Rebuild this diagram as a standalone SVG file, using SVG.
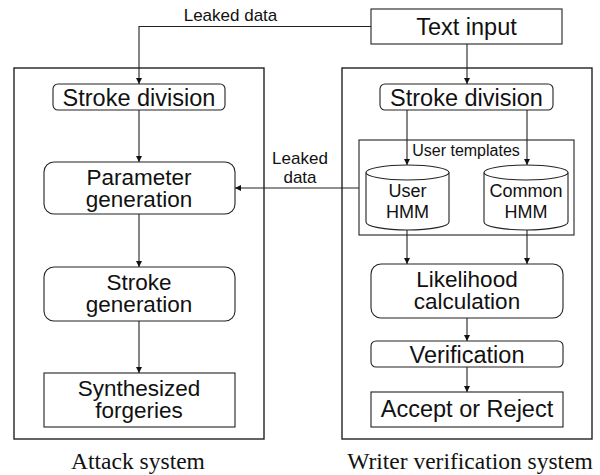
<svg xmlns="http://www.w3.org/2000/svg" width="600" height="475" viewBox="0 0 600 475">
  <defs>
    <marker id="arrow" viewBox="0 0 6 6" refX="6" refY="3" markerWidth="6" markerHeight="6" markerUnits="userSpaceOnUse" orient="auto">
      <path d="M0,0 L6,3 L0,6 z" fill="#111"/>
    </marker>
    <style>
      .frame { fill: none; stroke: #222; stroke-width: 1.4; }
      .box { fill: #fff; stroke: #222; stroke-width: 1.1; }
      .link { fill: none; stroke: #222; stroke-width: 1.1; marker-end: url(#arrow); }
      .plain { fill: none; stroke: #222; stroke-width: 1.1; }
      .t { font-family: "Liberation Sans", Arial, sans-serif; fill: #111; text-anchor: middle; }
      .big { font-size: 23.5px; }
      .two { font-size: 22.5px; }
      .mid { font-size: 18px; }
      .small { font-size: 17px; }
      .tiny { font-size: 16px; }
      .cap { font-family: "Liberation Serif", "Times New Roman", serif; font-size: 23.5px; fill: #111; text-anchor: middle; }
    </style>
  </defs>
  <rect width="600" height="475" fill="#fff"/>

  <!-- system frames -->
  <g id="attack-system">
    <rect class="frame" x="14" y="68" width="250" height="371"/>
    <text class="cap" x="138" y="469">Attack system</text>
  </g>
  <g id="writer-verification-system">
    <rect class="frame" x="342" y="68" width="250" height="371"/>
    <text class="cap" x="470" y="469">Writer verification system</text>
  </g>
  <g id="user-templates">
    <rect class="plain" x="359" y="140" width="215" height="95"/>
    <text class="t tiny" x="466" y="156">User templates</text>
  </g>

  <!-- connectors -->
  <g id="connectors">
    <polyline class="link" points="371,26.5 139,26.5 139,84"/>
    <line class="link" x1="139" y1="110" x2="139" y2="162"/>
    <line class="link" x1="139" y1="214" x2="139" y2="267"/>
    <line class="link" x1="139" y1="321" x2="139" y2="373"/>
    <line class="link" x1="467" y1="44" x2="467" y2="84"/>
    <line class="link" x1="407" y1="110" x2="407" y2="165"/>
    <line class="link" x1="527" y1="110" x2="527" y2="165"/>
    <line class="link" x1="407" y1="230" x2="407" y2="264"/>
    <line class="link" x1="527" y1="230" x2="527" y2="264"/>
    <line class="link" x1="467" y1="318" x2="467" y2="341"/>
    <line class="link" x1="467" y1="367" x2="467" y2="392"/>
    <line class="link" x1="359" y1="188" x2="235" y2="188"/>
    <text class="t small" x="230.5" y="21">Leaked data</text>
    <text class="t small" x="300" y="164">Leaked</text>
    <text class="t small" x="300" y="183">data</text>
  </g>

  <!-- attack system nodes -->
  <g id="attack-stroke-division">
    <rect class="box" x="53" y="84" width="172" height="26" rx="5"/>
    <text class="t big" x="139" y="106">Stroke division</text>
  </g>
  <g id="parameter-generation">
    <rect class="box" x="44" y="162" width="191" height="52" rx="10"/>
    <text class="t two" x="139" y="185">Parameter</text>
    <text class="t two" x="139" y="206.5">generation</text>
  </g>
  <g id="stroke-generation">
    <rect class="box" x="44" y="267" width="191" height="54" rx="10"/>
    <text class="t two" x="139" y="290">Stroke</text>
    <text class="t two" x="139" y="311.5">generation</text>
  </g>
  <g id="synthesized-forgeries">
    <rect class="box" x="44" y="373" width="191" height="54"/>
    <text class="t two" x="139" y="396">Synthesized</text>
    <text class="t two" x="139" y="417.5">forgeries</text>
  </g>

  <!-- verification system nodes -->
  <g id="text-input">
    <rect class="box" x="371" y="9" width="191" height="35"/>
    <text class="t big" x="466.5" y="35">Text input</text>
  </g>
  <g id="writer-stroke-division">
    <rect class="box" x="380" y="84" width="173" height="26" rx="5"/>
    <text class="t big" x="466.5" y="106">Stroke division</text>
  </g>
  <g id="user-hmm">
    <path class="box" d="M366,172.5 L366,222 A41.5,8 0 0 0 449,222 L449,172.5"/>
    <ellipse class="box" cx="407.5" cy="172.5" rx="41.5" ry="7.5"/>
    <text class="t mid" x="407.5" y="197">User</text>
    <text class="t mid" x="407.5" y="218">HMM</text>
  </g>
  <g id="common-hmm">
    <path class="box" d="M484,172.5 L484,222 A42,8 0 0 0 568,222 L568,172.5"/>
    <ellipse class="box" cx="526" cy="172.5" rx="42" ry="7.5"/>
    <text class="t mid" x="526" y="197">Common</text>
    <text class="t mid" x="526" y="218">HMM</text>
  </g>
  <g id="likelihood-calculation">
    <rect class="box" x="371" y="264" width="192" height="54" rx="10"/>
    <text class="t two" x="467" y="287">Likelihood</text>
    <text class="t two" x="467" y="309">calculation</text>
  </g>
  <g id="verification">
    <rect class="box" x="371" y="341" width="192" height="26" rx="5"/>
    <text class="t big" x="467" y="363">Verification</text>
  </g>
  <g id="accept-or-reject">
    <rect class="box" x="371" y="392" width="192" height="35"/>
    <text class="t big" x="467" y="417">Accept or Reject</text>
  </g>
</svg>
